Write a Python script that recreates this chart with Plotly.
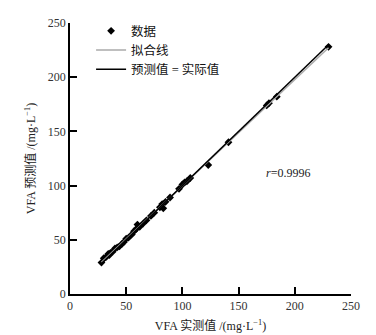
import numpy as np
import plotly.graph_objects as go

measured = [28, 30, 32, 34, 35, 36, 38, 40, 42, 44, 46, 48, 50, 52, 55, 57, 59, 60, 62, 65,
            68, 72, 75, 80, 82, 83, 85, 89, 97, 100, 102, 104, 107, 123, 141, 175, 177, 184, 230]
predicted = [29, 33, 34, 37, 36, 38, 39, 42, 43, 44, 46, 48, 51, 52, 55, 58, 60, 64, 62, 65,
             68, 72, 75, 80, 83, 79, 85, 89, 97, 101, 103, 104, 107, 119, 140, 174, 176, 182, 228]
x_ticks = [0, 50, 100, 150, 200, 250]
y_ticks = [0, 50, 100, 150, 200, 250]
r_label = "<i>r</i>=0.9996"

x = np.array(measured, dtype=float)
y = np.array(predicted, dtype=float)
k, b = np.polyfit(x, y, 1)
fx = np.array([x.min(), x.max()])
fy = k * fx + b
ident = np.array([x.min(), x.max()])

FONT = "Liberation Serif, Noto Sans CJK SC, serif"

fig = go.Figure()
fig.add_trace(go.Scatter(x=measured, y=predicted, mode="markers", name="数据",
                         marker=dict(symbol="diamond", size=6, color="black")))
fig.add_trace(go.Scatter(x=fx, y=fy, mode="lines", name="拟合线",
                         line=dict(color="#aaaaaa", width=1.5)))
fig.add_trace(go.Scatter(x=ident, y=ident, mode="lines", name="预测值 = 实际值",
                         line=dict(color="black", width=1.5)))

fig.add_annotation(x=194, y=112, text=r_label, showarrow=False,
                   font=dict(family=FONT, size=12, color="#222"))

axis_common = dict(range=[0, 250], showgrid=False, zeroline=False, showline=True,
                   linecolor="black", linewidth=1.5, ticks="inside", ticklen=7,
                   tickwidth=1.5, tickcolor="black", automargin=False,
                   tickfont=dict(family=FONT, size=12, color="#333"))

# page body has an 8px default margin; compensate so plot lands where the reference has it
fig.update_layout(
    width=368, height=327,
    margin=dict(l=62, r=25, t=8, b=41),
    plot_bgcolor="white", paper_bgcolor="white",
    showlegend=True,
    legend=dict(x=0.075, y=1.025, xanchor="left", yanchor="top",
                font=dict(family=FONT, size=12.5, color="#111"),
                bgcolor="rgba(0,0,0,0)", tracegroupgap=0, itemwidth=30),
    xaxis=dict(**axis_common, tickvals=x_ticks,
               title=dict(text="VFA 实测值 /(mg·L<sup>−1</sup>)", standoff=9,
                          font=dict(family=FONT, size=12, color="#222"))),
    yaxis=dict(**axis_common, tickvals=y_ticks,
               title=dict(text="VFA 预测值 /(mg·L<sup>−1</sup>)", standoff=10,
                          font=dict(family=FONT, size=12, color="#222"))),
)

fig.write_html("out.html")
